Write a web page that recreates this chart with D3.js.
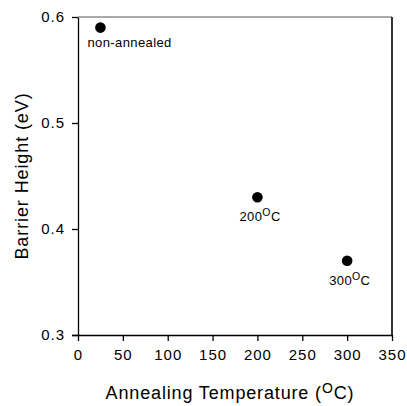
<!DOCTYPE html>
<html><head><meta charset="utf-8">
<script src="https://cdn.jsdelivr.net/npm/d3@7"></script>
<style>body{margin:0;background:#fff}svg{display:block}text{font-family:Arial,"Liberation Sans",sans-serif}</style>
</head><body><svg id="c" width="407" height="406"></svg>
<script>
const temps = [25, 200, 300];
const heights = [0.59, 0.43, 0.37];
const labels = ["non-annealed", "200", "300"];
const xTicks = [0, 50, 100, 150, 200, 250, 300, 350];
const yTicks = [0.3, 0.4, 0.5, 0.6];

const svg = d3.select("#c");
const L = 78, R = 392, T = 17, B = 335;
const x = d3.scaleLinear().domain([0, 350]).range([L, R]);
const y = d3.scaleLinear().domain([0.3, 0.6]).range([B, T]);

const xa = svg.append("g").attr("transform", `translate(0,${B})`)
  .call(d3.axisBottom(x).tickValues(xTicks).tickSize(6).tickPadding(8).tickSizeOuter(0));
const ya = svg.append("g").attr("transform", `translate(${L},0)`)
  .call(d3.axisLeft(y).tickValues(yTicks).tickFormat(d3.format(".1f")).tickSize(6).tickPadding(7).tickSizeOuter(0));
[xa, ya].forEach(g => {
  g.selectAll("path,line").attr("stroke", "#000").attr("stroke-width", 1.3);
  g.selectAll("text").attr("font-size", 15).attr("fill", "#000").attr("letter-spacing", 1)
    .attr("font-family", "Arial, 'Liberation Sans', sans-serif");
});
xa.select(".domain").attr("d", `M${L-6},0.5H${R}`);

// frame top and right
svg.append("line").attr("x1", L).attr("x2", R).attr("y1", y(0.6)).attr("y2", y(0.6))
  .attr("stroke", "#555").attr("stroke-width", 1);
svg.append("line").attr("x1", R).attr("x2", R).attr("y1", y(0.6)).attr("y2", y(0.3))
  .attr("stroke", "#000").attr("stroke-width", 1.6);

// points
svg.selectAll("circle.p").data(temps).join("circle")
  .attr("cx", d => x(d)).attr("cy", (d, i) => y(heights[i])).attr("r", 5.3).attr("fill", "#000");

// point labels
const lab = svg.append("g").attr("fill", "#000");
lab.append("text").attr("x", x(temps[0]) - 13).attr("y", y(heights[0]) + 19)
  .attr("font-size", 13).attr("letter-spacing", 0.4).text(labels[0]);
[1, 2].forEach(i => {
  const t = lab.append("text").attr("x", x(temps[i]) - 18).attr("y", y(heights[i]) + 24)
    .attr("font-size", 13).attr("letter-spacing", 0.4);
  t.append("tspan").text(labels[i]);
  t.append("tspan").attr("dy", -5).attr("font-size", 10.5).text("O");
  t.append("tspan").attr("dy", 5).text("C");
});

// axis titles
const xt = svg.append("text").attr("x", (L + R) / 2 - 5).attr("y", 399).attr("text-anchor", "middle")
  .attr("font-size", 18).attr("letter-spacing", 0.85);
xt.append("tspan").text("Annealing Temperature (");
xt.append("tspan").attr("dy", -6).attr("font-size", 14).text("O");
xt.append("tspan").attr("dy", 6).text("C)");

svg.append("text").attr("transform", `translate(28,${(T + B) / 2}) rotate(-90)`)
  .attr("text-anchor", "middle").attr("font-size", 18).attr("letter-spacing", 0.9).text("Barrier Height (eV)");
</script></body></html>
